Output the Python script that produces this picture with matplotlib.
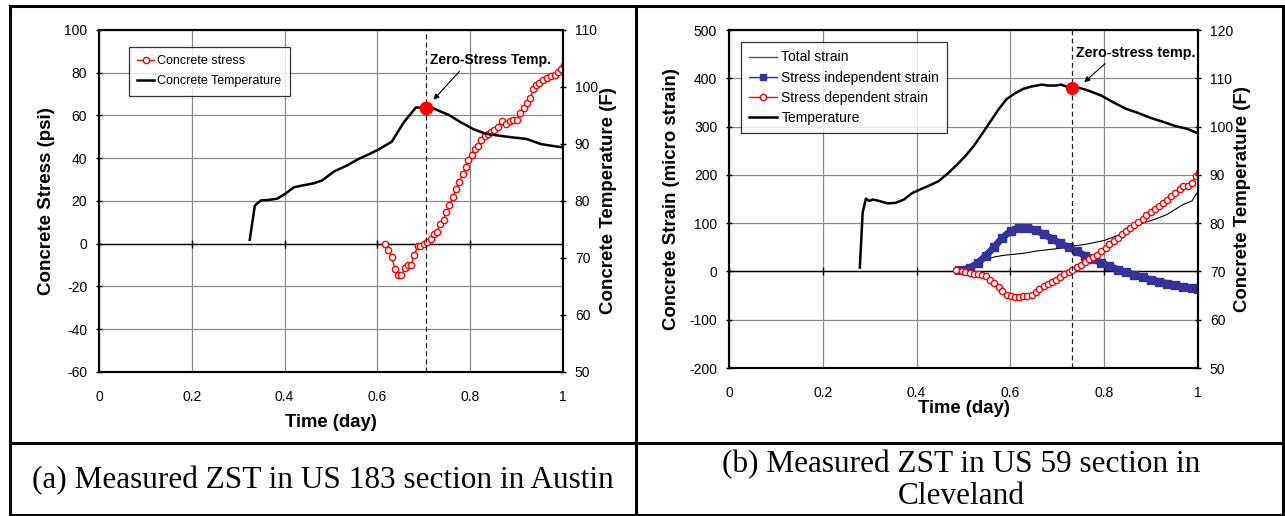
import numpy as np
import matplotlib.pyplot as plt
from matplotlib.lines import Line2D

plt.rcParams['font.family'] = ['Liberation Sans', 'DejaVu Sans']
plt.rcParams['axes.unicode_minus'] = False

# ---- (a) US 183 section, Austin ----
a_temp_t = [0.325, 0.336, 0.349, 0.367, 0.384, 0.402, 0.420, 0.437, 0.463, 0.481,
            0.507, 0.534, 0.560, 0.582, 0.604, 0.631, 0.644, 0.657, 0.675, 0.683,
            0.701, 0.719, 0.736, 0.754, 0.780, 0.807, 0.833, 0.859, 0.886, 0.921,
            0.952, 0.974, 1.0]
a_temp = [73.2, 79.2, 80.1, 80.2, 80.4, 81.3, 82.4, 82.7, 83.1, 83.6,
          85.2, 86.2, 87.4, 88.2, 89.1, 90.4, 92.1, 93.8, 95.6, 96.4,
          96.4, 96.3, 95.7, 95.1, 93.8, 92.6, 91.8, 91.5, 91.2, 90.9,
          90.0, 89.7, 89.4]
a_stress_t = [0.616, 0.624, 0.631, 0.638, 0.644, 0.652, 0.659, 0.666, 0.673, 0.680,
              0.687, 0.692, 0.701, 0.708, 0.715, 0.722, 0.729, 0.736, 0.743, 0.748,
              0.755, 0.763, 0.770, 0.777, 0.784, 0.791, 0.796, 0.803, 0.810, 0.817,
              0.824, 0.831, 0.838, 0.845, 0.852, 0.859, 0.868, 0.877, 0.886, 0.893,
              0.901, 0.908, 0.916, 0.923, 0.930, 0.935, 0.942, 0.949, 0.956, 0.965,
              0.974, 0.982, 0.989, 0.996, 1.002]
a_stress = [0.0, -3.1, -6.2, -12.0, -14.8, -14.8, -11.4, -9.8, -9.8, -5.2,
            -1.1, -1.1, -0.3, 0.8, 2.0, 4.5, 5.7, 9.2, 11.2, 14.8,
            17.9, 21.9, 25.4, 29.1, 32.7, 35.8, 39.2, 41.3, 44.1, 45.9,
            48.7, 50.3, 51.5, 52.2, 53.3, 54.4, 57.2, 56.2, 57.6, 58.1,
            58.1, 61.2, 63.7, 65.9, 68.1, 72.2, 74.3, 75.2, 76.8, 77.7,
            78.7, 79.0, 80.5, 81.8, 83.6]
a_zst_t = 0.704
a_zst_temp = 96.3

# ---- (b) US 59 section, Cleveland ----
b_temp_t = [0.279, 0.285, 0.292, 0.299, 0.307, 0.320, 0.338, 0.355, 0.373, 0.390,
            0.408, 0.425, 0.447, 0.469, 0.487, 0.504, 0.522, 0.539, 0.557, 0.575,
            0.592, 0.610, 0.627, 0.645, 0.667, 0.680, 0.697, 0.708, 0.719, 0.741,
            0.768, 0.794, 0.820, 0.846, 0.873, 0.899, 0.925, 0.952, 0.978, 1.0]
b_temp = [70.8, 82.2, 85.1, 84.6, 84.9, 84.6, 84.1, 84.2, 84.9, 86.2,
          87.0, 87.7, 88.7, 90.5, 92.2, 93.9, 96.0, 98.4, 101.0, 103.6,
          105.7, 106.9, 107.8, 108.3, 108.7, 108.5, 108.5, 108.7, 108.3, 108.2,
          107.4, 106.4, 105.0, 103.7, 102.8, 101.8, 101.0, 100.1, 99.5, 98.6]
b_total_t = [0.513, 0.531, 0.548, 0.566, 0.583, 0.601, 0.627, 0.654, 0.680, 0.706,
             0.732, 0.759, 0.785, 0.803, 0.829, 0.855, 0.882, 0.908, 0.934, 0.952,
             0.969, 0.987, 0.996, 1.004]
b_total = [2, 12, 25, 30, 33, 35, 37.5, 42, 45, 48,
           52.5, 56, 61, 65, 75, 87, 100, 108, 118, 129,
           139, 146, 160, 169]
b_indep_t = [0.491, 0.513, 0.531, 0.548, 0.566, 0.583, 0.601, 0.618, 0.636, 0.654,
             0.671, 0.689, 0.706, 0.724, 0.741, 0.759, 0.776, 0.794, 0.811, 0.829,
             0.846, 0.864, 0.882, 0.899, 0.917, 0.934, 0.952, 0.969, 0.987, 1.0]
b_indep = [2, 7, 18, 33, 51, 70, 84, 91, 90, 86,
           77, 68, 58, 50, 41.5, 33, 26, 18, 11, 4,
           -1.5, -7, -12, -17, -21, -25, -28.5, -32, -35, -36]
b_dep_t = [0.485, 0.496, 0.504, 0.513, 0.522, 0.531, 0.539, 0.548, 0.557, 0.566,
           0.575, 0.583, 0.592, 0.601, 0.610, 0.618, 0.627, 0.636, 0.645, 0.654,
           0.662, 0.671, 0.680, 0.689, 0.697, 0.706, 0.715, 0.724, 0.732, 0.741,
           0.750, 0.759, 0.768, 0.776, 0.785, 0.794, 0.803, 0.811, 0.820, 0.829,
           0.838, 0.846, 0.855, 0.864, 0.873, 0.882, 0.890, 0.899, 0.908, 0.917,
           0.925, 0.934, 0.943, 0.952, 0.961, 0.969, 0.978, 0.987, 0.996, 1.003]
b_dep = [2, 0, -1.5, -3.5, -5, -6, -7, -10, -17, -24,
         -32, -40, -48, -51, -53, -53, -51, -50, -48, -43,
         -36, -30, -26, -21.5, -17, -11, -6, -1, 4, 9,
         14, 19, 25, 30, 35, 42, 49, 56, 63, 70,
         77, 84, 91, 97, 103, 109, 116, 123, 129, 135.5,
         141, 149, 156, 163, 170, 176, 178, 184, 198, 205]
b_zst_t = 0.732
b_zst_temp = 107.9

xticks = [0, 0.2, 0.4, 0.6, 0.8, 1.0]
xtick_labels = ['0', '0.2', '0.4', '0.6', '0.8', '1']

RED = '#ff0000'
BLUE = '#333399'
GRID = '#8c8c8c'

fig = plt.figure(figsize=(12.85, 5.16), dpi=100)


def style_axes(ax, ax2):
    ax.set_xlim(0, 1)
    ax.set_xticks(xticks)
    ax.set_xticklabels(xtick_labels)
    ax.grid(True, color=GRID, lw=0.9)
    ax.set_axisbelow(True)
    ax.tick_params(axis='x', length=0, pad=13, labelsize=10)
    ax.tick_params(axis='y', direction='inout', length=5, width=1, pad=6, labelsize=10)
    ax2.tick_params(axis='y', direction='inout', length=5, width=1, pad=6, labelsize=10)
    for a in (ax, ax2):
        for s in a.spines.values():
            s.set_linewidth(1.5)
            s.set_color('black')
    # x axis crosses at zero, like the spreadsheet chart
    ax.axhline(0, color='black', lw=1, zorder=1.5)
    ax.plot(xticks, [0] * len(xticks), ls='none', marker='|', ms=6, mew=1,
            color='black', zorder=1.5)


# ---------------- chart (a) ----------------
axa = fig.add_axes([0.0770, 0.2791, 0.3611, 0.6628])
axa2 = axa.twinx()
axa.set_ylim(-60, 100)
axa.set_yticks(np.arange(-60, 101, 20))
axa2.set_ylim(50, 110)
axa2.set_yticks(np.arange(50, 111, 10))
style_axes(axa, axa2)

l1, = axa.plot(a_stress_t, a_stress, color=RED, lw=1, marker='o', ms=4.5,
               mfc='white', mec=RED, mew=1, label='Concrete stress')
l2, = axa2.plot(a_temp_t, a_temp, color='black', lw=1.8, label='Concrete Temperature')
axa2.axvline(a_zst_t, color='#222222', ls=(0, (4, 2.5)), lw=0.9)
axa2.plot([a_zst_t], [a_zst_temp], 'o', color=RED, ms=9, zorder=5)
axa2.annotate('', xy=(0.717, 97.4), xytext=(0.781, 103.1),
              arrowprops=dict(arrowstyle='-|>', color='black', lw=0.8, mutation_scale=8))
axa2.text(0.713, 104.7, 'Zero-Stress Temp.', fontsize=10, fontweight='bold', va='center', ha='left')

axa.set_xlabel('Time (day)', fontsize=13.3, fontweight='bold')
axa.set_ylabel('Concrete Stress (psi)', fontsize=13.5, fontweight='bold')
axa2.set_ylabel('Concrete Temperature (F)', fontsize=13.5, fontweight='bold')
axa.xaxis.set_label_coords(0.5, -0.123)
axa.yaxis.set_label_coords(-0.095, 0.5)
axa2.yaxis.set_label_coords(1.080, 0.5)

leg = axa2.legend(handles=[l1, l2], loc='upper left', bbox_to_anchor=(0.064, 0.951),
                  fontsize=9, frameon=True, fancybox=False, edgecolor='black',
                  handlelength=1.3, handletextpad=0.3, borderpad=0.7, labelspacing=0.6,
                  borderaxespad=0)
leg.get_frame().set_linewidth(0.9)

# ---------------- chart (b) ----------------
axb = fig.add_axes([0.5673, 0.2868, 0.3650, 0.6550])
axb2 = axb.twinx()
axb.set_ylim(-200, 500)
axb.set_yticks(np.arange(-200, 501, 100))
axb2.set_ylim(50, 120)
axb2.set_yticks(np.arange(50, 121, 10))
style_axes(axb, axb2)

m1, = axb.plot(b_total_t, b_total, color='black', lw=0.8, label='Total strain')
m2, = axb.plot(b_indep_t, b_indep, color=BLUE, lw=5, marker='s', ms=6,
               label='Stress independent strain')
m3, = axb.plot(b_dep_t, b_dep, color=RED, lw=1, marker='o', ms=4.5,
               mfc='white', mec=RED, mew=1, label='Stress dependent strain')
m4, = axb2.plot(b_temp_t, b_temp, color='black', lw=1.8, label='Temperature')
axb2.axvline(b_zst_t, color='#222222', ls=(0, (4, 2.5)), lw=0.9)
axb2.plot([b_zst_t], [b_zst_temp], 'o', color=RED, ms=8.5, zorder=5)
axb2.annotate('', xy=(0.753, 108.8), xytext=(0.806, 113.4),
              arrowprops=dict(arrowstyle='-|>', color='black', lw=0.8, mutation_scale=8))
axb2.text(0.740, 115.2, 'Zero-stress temp.', fontsize=10.3, fontweight='bold', va='center', ha='left')

axb.set_xlabel('Time (day)', fontsize=13.3, fontweight='bold')
axb.set_ylabel('Concrete Strain (micro strain)', fontsize=13.4, fontweight='bold')
axb2.set_ylabel('Concrete Temperature (F)', fontsize=13.4, fontweight='bold')
axb.xaxis.set_label_coords(0.5, -0.095)
axb.yaxis.set_label_coords(-0.104, 0.5)
axb2.yaxis.set_label_coords(1.077, 0.5)

# legend handles: gray thin line for total strain, blue line with small square
h1 = Line2D([], [], color='#555555', lw=1)
h2 = Line2D([], [], color=BLUE, lw=1, marker='s', ms=5)
h3 = Line2D([], [], color=RED, lw=1, marker='o', ms=4.5, mfc='white', mec=RED)
h4 = Line2D([], [], color='black', lw=1.8)
legb = axb2.legend([h1, h2, h3, h4], [m1.get_label(), m2.get_label(), m3.get_label(), m4.get_label()],
                   loc='upper left', bbox_to_anchor=(0.0256, 0.9645),
                   fontsize=10, frameon=True, fancybox=False, edgecolor='black',
                   handlelength=2.0, handletextpad=0.3, borderpad=0.6, labelspacing=0.45,
                   borderaxespad=0)
legb.get_frame().set_linewidth(0.9)

# ---------------- table frame and captions ----------------
W, H = 1285.0, 516.0
def fx(px):
    return px / W
def fy(py):
    return 1 - py / H

lw_tab = 2.2
for xs, ys in [((10, 1283), (6, 6)), ((10, 1283), (443, 443)), ((10, 1283), (515, 515)),
               ((10, 10), (6, 516)), ((636, 636), (6, 516)), ((1283, 1283), (6, 516))]:
    fig.add_artist(Line2D([fx(xs[0]), fx(xs[1])], [fy(ys[0]), fy(ys[1])],
                          transform=fig.transFigure, color='black', lw=lw_tab))

serif = ['Liberation Serif', 'DejaVu Serif']
fig.text(fx(323), fy(481), '(a) Measured ZST in US 183 section in Austin',
         family=serif, fontsize=22.5, ha='center', va='center')
fig.text(fx(961), fy(465), '(b) Measured ZST in US 59 section in',
         family=serif, fontsize=22.5, ha='center', va='center')
fig.text(fx(961), fy(497), 'Cleveland',
         family=serif, fontsize=22.5, ha='center', va='center')

fig.savefig('out.png', dpi=100)
